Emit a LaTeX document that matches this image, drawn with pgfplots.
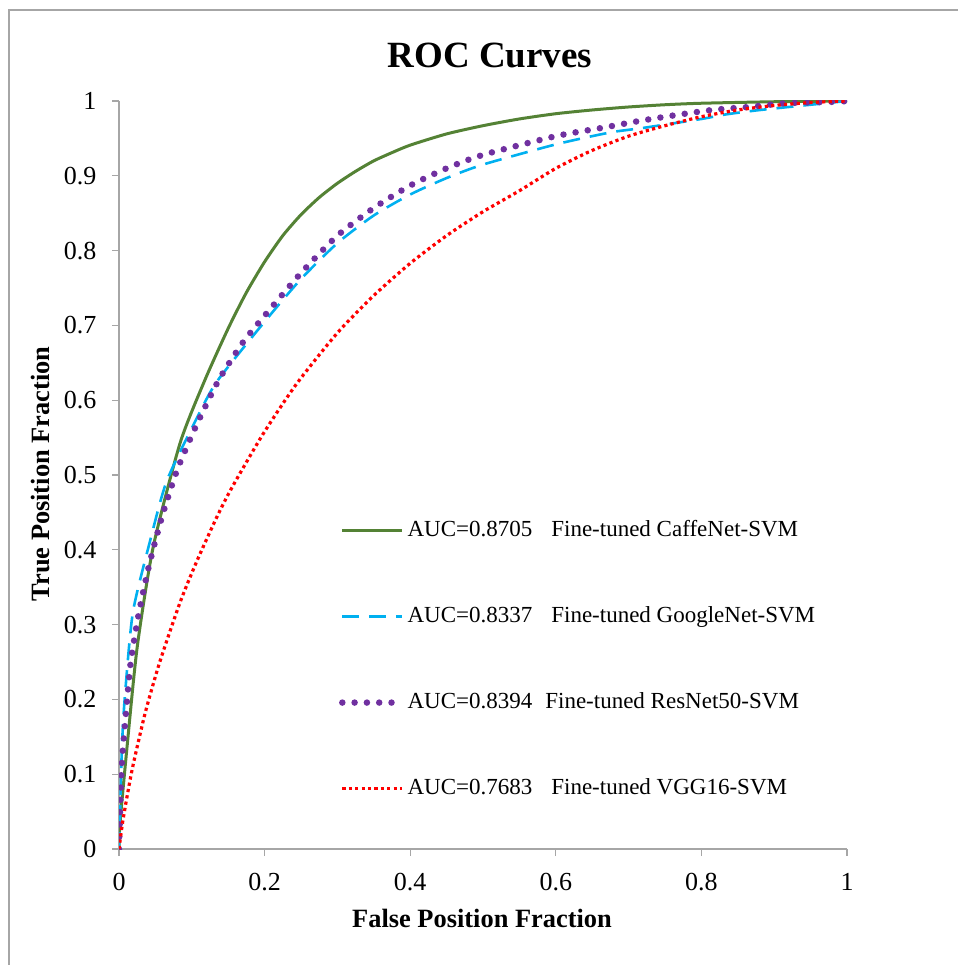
\documentclass[border=0pt]{standalone}
\usepackage{pgfplots}
\pgfplotsset{compat=1.18}
\usepackage{fontspec}
\setmainfont{Liberation Serif}
\definecolor{cgreen}{HTML}{548235}
\definecolor{cblue}{HTML}{00B0F0}
\definecolor{cpurple}{HTML}{7030A0}
\definecolor{cred}{HTML}{FF0000}
\definecolor{axgray}{HTML}{A6A6A6}
\begin{document}
\begin{tikzpicture}
\path[use as bounding box] (0,0) rectangle (958pt,-965pt);
\draw[axgray, line width=1.5pt] (9pt,-965pt) -- (9pt,-10pt) -- (958pt,-10pt);
\begin{axis}[
  at={(119pt,-849pt)}, anchor=south west,
  scale only axis, width=728pt, height=748pt,
  xmin=0, xmax=1, ymin=0, ymax=1,
  axis x line*=bottom, axis y line*=left,
  axis line style={-, draw=axgray, line width=1.5pt},
  tick style={draw=axgray, line width=1.3pt},
  tick align=outside, major tick length=7pt,
  xtick={0,0.2,0.4,0.6,0.8,1},
  ytick={0,0.1,0.2,0.3,0.4,0.5,0.6,0.7,0.8,0.9,1},
  /pgf/number format/assume math mode=true,
  ticklabel style={font=\fontsize{26}{30}\selectfont},
  xticklabel style={yshift=-14pt},
  yticklabel style={xshift=-12pt},
  legend cell align=left,
  legend image code/.code={\draw[#1] (0pt,0pt) -- (60pt,0pt);},
  legend style={at={(0.302,0.44)}, anchor=north west, draw=none, fill=none,
    font=\fontsize{23}{27}\selectfont, inner sep=0pt, row sep=65pt,
    nodes={inner xsep=2pt, inner ysep=0pt, text height=16pt, text depth=5pt}},
]
\addplot[cgreen, line width=3pt, smooth, tension=0.4] coordinates {
(0,0) (0.0014,0.035) (0.011,0.136) (0.025,0.27) (0.047,0.404) (0.084,0.543)
(0.118,0.627) (0.15,0.696) (0.175,0.744) (0.2,0.785) (0.225,0.820) (0.25,0.848)
(0.275,0.871) (0.3,0.890) (0.325,0.906) (0.35,0.920) (0.375,0.931) (0.4,0.941)
(0.45,0.956) (0.5,0.967) (0.55,0.976) (0.6,0.983) (0.65,0.988) (0.7,0.992)
(0.75,0.995) (0.8,0.997) (0.9,0.999) (1,1)};
\addlegendentry{AUC=0.8705\hspace{19pt}Fine-tuned CaffeNet-SVM}
\addplot[cblue, line width=2.6pt, dash pattern=on 17pt off 10pt, smooth, tension=0.4] coordinates {
(0,0) (0.001,0.03) (0.004,0.136) (0.008,0.203) (0.019,0.316) (0.043,0.413)
(0.066,0.493) (0.111,0.584) (0.136,0.627) (0.2,0.705) (0.25,0.762) (0.3,0.81)
(0.35,0.847) (0.4,0.875) (0.45,0.897) (0.5,0.915) (0.6,0.942) (0.675,0.958)
(0.72,0.964) (0.8,0.976) (0.833,0.982) (0.872,0.987) (0.91,0.991) (1,1)};
\addlegendentry{AUC=0.8337\hspace{19pt}Fine-tuned GoogleNet-SVM}
\addplot[cpurple, line width=6.5pt, line cap=round, dash pattern=on 0pt off 12.3pt, smooth, tension=0.4] coordinates {
(0,0) (0.0014,0.049) (0.004,0.116) (0.0096,0.182) (0.016,0.249) (0.027,0.314)
(0.041,0.378) (0.059,0.444) (0.080,0.507) (0.107,0.568) (0.137,0.627) (0.17,0.677)
(0.2,0.713) (0.25,0.770) (0.3,0.820) (0.35,0.857) (0.4,0.887) (0.45,0.910)
(0.5,0.928) (0.6,0.953) (0.663,0.964) (0.713,0.973) (0.764,0.981) (0.815,0.988)
(0.865,0.992) (0.916,0.997) (0.985,0.999) (1,1)};
\addlegendentry{AUC=0.8394\hspace{13pt}Fine-tuned ResNet50-SVM}
\addplot[cred, line width=3.2pt, dash pattern=on 3.2pt off 3.2pt, smooth, tension=0.4] coordinates {
(0,0) (0.0055,0.039) (0.018,0.106) (0.036,0.182) (0.056,0.25) (0.084,0.33)
(0.107,0.385) (0.134,0.443) (0.155,0.483) (0.198,0.555) (0.244,0.622) (0.3,0.69)
(0.35,0.74) (0.4,0.783) (0.45,0.82) (0.5,0.852) (0.55,0.88) (0.6,0.91)
(0.65,0.934) (0.7,0.953) (0.75,0.967) (0.8,0.979) (0.85,0.988) (0.9,0.994)
(0.95,0.998) (1,1)};
\addlegendentry{AUC=0.7683\hspace{19pt}Fine-tuned VGG16-SVM}
\end{axis}
\node[font=\bfseries\fontsize{37}{42}\selectfont] at (490pt,-55pt) {ROC Curves};
\node[font=\bfseries\fontsize{26.4}{31}\selectfont] at (482pt,-918pt) {False Position Fraction};
\node[font=\bfseries\fontsize{26.4}{31}\selectfont, rotate=90] at (41pt,-474pt) {True Position Fraction};
\end{tikzpicture}
\end{document}
